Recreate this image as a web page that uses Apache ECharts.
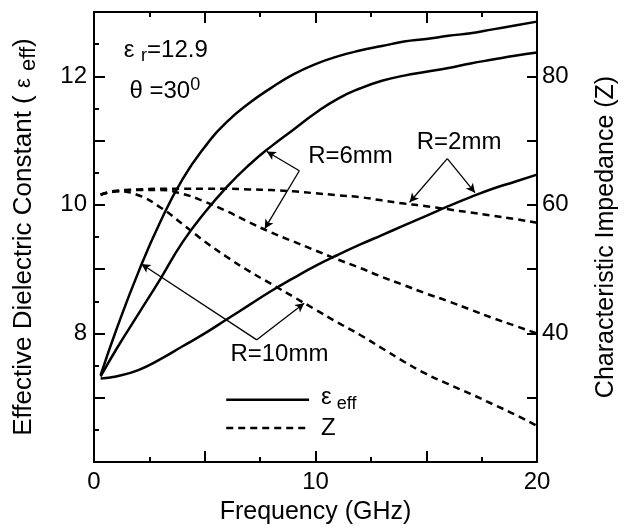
<!DOCTYPE html>
<html>
<head>
<meta charset="utf-8">
<script src="https://cdn.jsdelivr.net/npm/echarts@6/dist/echarts.min.js"></script>
<style>
html, body { margin: 0; padding: 0; background: #fff; }
#chart { width: 627px; height: 530px; }
</style>
</head>
<body>
<div id="chart"></div>
<script>
var FONT = '"Liberation Sans", Arial, Helvetica, sans-serif';

// frequency points (GHz)
var freq = [0.3, 1, 2, 3, 4, 5, 6, 7, 8, 9, 10, 11, 12, 13, 14, 15, 16, 17, 18, 19, 20];

// effective dielectric constant, left axis
var epsR10 = [7.35, 8.05, 8.95, 9.74, 10.4, 10.9, 11.29, 11.58, 11.82, 12.03, 12.19, 12.31, 12.4, 12.47, 12.54, 12.58, 12.63, 12.67, 12.73, 12.79, 12.85];
var epsR6  = [7.33, 7.75, 8.3, 8.85, 9.42, 9.88, 10.28, 10.62, 10.91, 11.17, 11.43, 11.65, 11.81, 11.93, 12.01, 12.07, 12.13, 12.2, 12.26, 12.32, 12.37];
var epsR2  = [7.3, 7.33, 7.43, 7.6, 7.8, 8.0, 8.22, 8.44, 8.66, 8.86, 9.05, 9.22, 9.38, 9.53, 9.68, 9.83, 9.98, 10.12, 10.25, 10.36, 10.47];

// characteristic impedance, right axis
var zR2  = [61.6, 62.2, 62.4, 62.5, 62.5, 62.5, 62.5, 62.4, 62.3, 62.1, 61.8, 61.5, 61.2, 60.7, 60.2, 59.8, 59.3, 58.8, 58.3, 57.8, 57.2];
var zR6  = [61.6, 62.1, 62.3, 62.3, 61.7, 60.5, 59.0, 57.3, 55.7, 54.3, 52.9, 51.5, 50.2, 48.8, 47.5, 46.2, 45.0, 43.7, 42.4, 41.2, 40.0];
var zR10 = [61.5, 62.1, 61.5, 59.6, 57.0, 54.3, 51.9, 49.7, 47.7, 45.7, 43.7, 41.7, 39.8, 37.7, 35.6, 33.7, 32.1, 30.6, 29.0, 27.4, 25.6];

var xLabels = [0, 10, 20];
var leftLabels = [8, 10, 12];
var rightLabels = [40, 60, 80];

// arrows: [from (f, eps), to (f, eps)]
var arrows = [
  [[9.27, 10.53], [7.8, 10.83]],
  [[9.27, 10.53], [7.71, 9.63]],
  [[15.95, 10.72], [14.25, 10.04]],
  [[15.95, 10.72], [17.2, 10.19]],
  [[7.35, 7.9], [2.14, 9.08]],
  [[7.35, 7.9], [9.49, 8.47]]
];

var chart = echarts.init(document.getElementById('chart'));

function pairs(ys) {
  return freq.map(function (f, i) { return [f, ys[i]]; });
}

function solid(name, ys) {
  return {
    name: name, type: 'line', xAxisIndex: 0, yAxisIndex: 0,
    data: pairs(ys), showSymbol: false, smooth: 0.5,
    lineStyle: { color: '#000', width: 2.5 }, silent: true
  };
}

function dashed(name, ys) {
  return {
    name: name, type: 'line', xAxisIndex: 0, yAxisIndex: 1,
    data: pairs(ys), showSymbol: false, smooth: 0.5,
    lineStyle: { color: '#000', width: 2.5, type: [7, 5] }, silent: true
  };
}

var tickLine = { color: '#000', width: 2 };
var axisLine = { show: true, onZero: false, lineStyle: { color: '#000', width: 2 } };

var series = [
  solid('eps R10', epsR10),
  solid('eps R6', epsR6),
  solid('eps R2', epsR2),
  dashed('Z R2', zR2),
  dashed('Z R6', zR6),
  dashed('Z R10', zR10)
];
series[0].markLine = {
  silent: true,
  symbol: ['none', 'arrow'],
  symbolSize: [7, 9],
  label: { show: false },
  lineStyle: { color: '#000', width: 1.3, type: 'solid' },
  data: arrows.map(function (a) {
    return [{ coord: a[0] }, { coord: a[1] }];
  })
};

var option = {
  animation: false,
  backgroundColor: '#fff',
  grid: { left: 92, right: 86, top: 12, bottom: 63 },
  xAxis: [{
    type: 'value', min: 0, max: 20, interval: 5, position: 'bottom',
    name: 'Frequency (GHz)', nameLocation: 'middle', nameGap: 38,
    nameTextStyle: { fontSize: 25, color: '#000', fontFamily: FONT },
    axisLine: axisLine,
    axisTick: { inside: true, length: 11, lineStyle: tickLine },
    minorTick: { show: true, splitNumber: 2, length: 5, lineStyle: tickLine },
    axisLabel: {
      fontSize: 24, color: '#000', fontFamily: FONT, margin: 8,
      formatter: function (v) { return xLabels.indexOf(v) >= 0 ? String(v) : ''; }
    },
    splitLine: { show: false }
  }, {
    type: 'value', min: 0, max: 20, interval: 5, position: 'top',
    axisLine: axisLine,
    axisTick: { inside: true, length: 11, lineStyle: tickLine },
    minorTick: { show: true, splitNumber: 2, length: 5, lineStyle: tickLine },
    axisLabel: { show: false },
    splitLine: { show: false }
  }],
  yAxis: [{
    type: 'value', min: 6, max: 13, interval: 1, position: 'left',
    name: 'Effective Dielectric Constant ( {e|ε} {s|eff})',
    nameLocation: 'middle', nameGap: 54, nameRotate: 90,
    nameTextStyle: {
      fontSize: 26, color: '#000', fontFamily: FONT, lineHeight: 32,
      rich: {
        e: { fontSize: 22, fontFamily: FONT, color: '#000', lineHeight: 32 },
        s: { fontSize: 22, fontFamily: FONT, color: '#000', lineHeight: 16, verticalAlign: 'bottom' }
      }
    },
    axisLine: axisLine,
    axisTick: { inside: true, length: 11, lineStyle: tickLine },
    minorTick: { show: true, splitNumber: 2, length: 5, lineStyle: tickLine },
    axisLabel: {
      fontSize: 24, color: '#000', fontFamily: FONT, margin: 7,
      formatter: function (v) { return leftLabels.indexOf(v) >= 0 ? String(v) : ''; }
    },
    splitLine: { show: false }
  }, {
    type: 'value', min: 20, max: 90, interval: 10, position: 'right',
    name: 'Characteristic Impedance (Z)',
    nameLocation: 'middle', nameGap: 57, nameRotate: 90,
    nameTextStyle: { fontSize: 25, color: '#000', fontFamily: FONT },
    axisLine: axisLine,
    axisTick: { inside: true, length: 10, lineStyle: tickLine },
    axisLabel: {
      fontSize: 24, color: '#000', fontFamily: FONT, margin: 5,
      formatter: function (v) { return rightLabels.indexOf(v) >= 0 ? String(v) : ''; }
    },
    splitLine: { show: false }
  }],
  series: series
};

chart.setOption(option);

// annotations placed in data coordinates (f, eps)
function px(f, e) {
  return chart.convertToPixel({ xAxisIndex: 0, yAxisIndex: 0 }, [f, e]);
}

var rich = {
  m: { fontSize: 24, fontFamily: FONT, fill: '#000', lineHeight: 30 },
  s: { fontSize: 18, fontFamily: FONT, fill: '#000', lineHeight: 14, verticalAlign: 'bottom' },
  p: { fontSize: 18, fontFamily: FONT, fill: '#000', lineHeight: 14, verticalAlign: 'top' }
};

function label(text, f, e, align) {
  var p = px(f, e);
  return {
    type: 'text', x: p[0], y: p[1], silent: true,
    style: { text: text, rich: rich, align: align || 'center', verticalAlign: 'middle', fill: '#000', font: '24px ' + FONT }
  };
}

var p1 = px(5.97, 6.97), p2 = px(9.71, 6.97);
var p3 = px(5.97, 6.53), p4 = px(9.71, 6.53);

chart.setOption({
  graphic: [
    label('{m|ε }{s|r}{m|=12.9}', 1.34, 12.41, 'left'),
    label('{m|θ =30}{p|0}', 1.6, 11.77, 'left'),
    label('{m|R=6mm}', 11.58, 10.75),
    label('{m|R=2mm}', 16.48, 10.97),
    label('{m|R=10mm}', 8.37, 7.67),
    { type: 'line', silent: true, shape: { x1: p1[0], y1: p1[1], x2: p2[0], y2: p2[1] },
      style: { stroke: '#000', lineWidth: 2.5 } },
    { type: 'line', silent: true, shape: { x1: p3[0], y1: p3[1], x2: p4[0], y2: p4[1] },
      style: { stroke: '#000', lineWidth: 2.5, lineDash: [7, 5] } },
    label('{m|ε}{s| eff}', 10.25, 7.0, 'left'),
    label('{m|Z}', 10.25, 6.52, 'left')
  ]
});
</script>
</body>
</html>
